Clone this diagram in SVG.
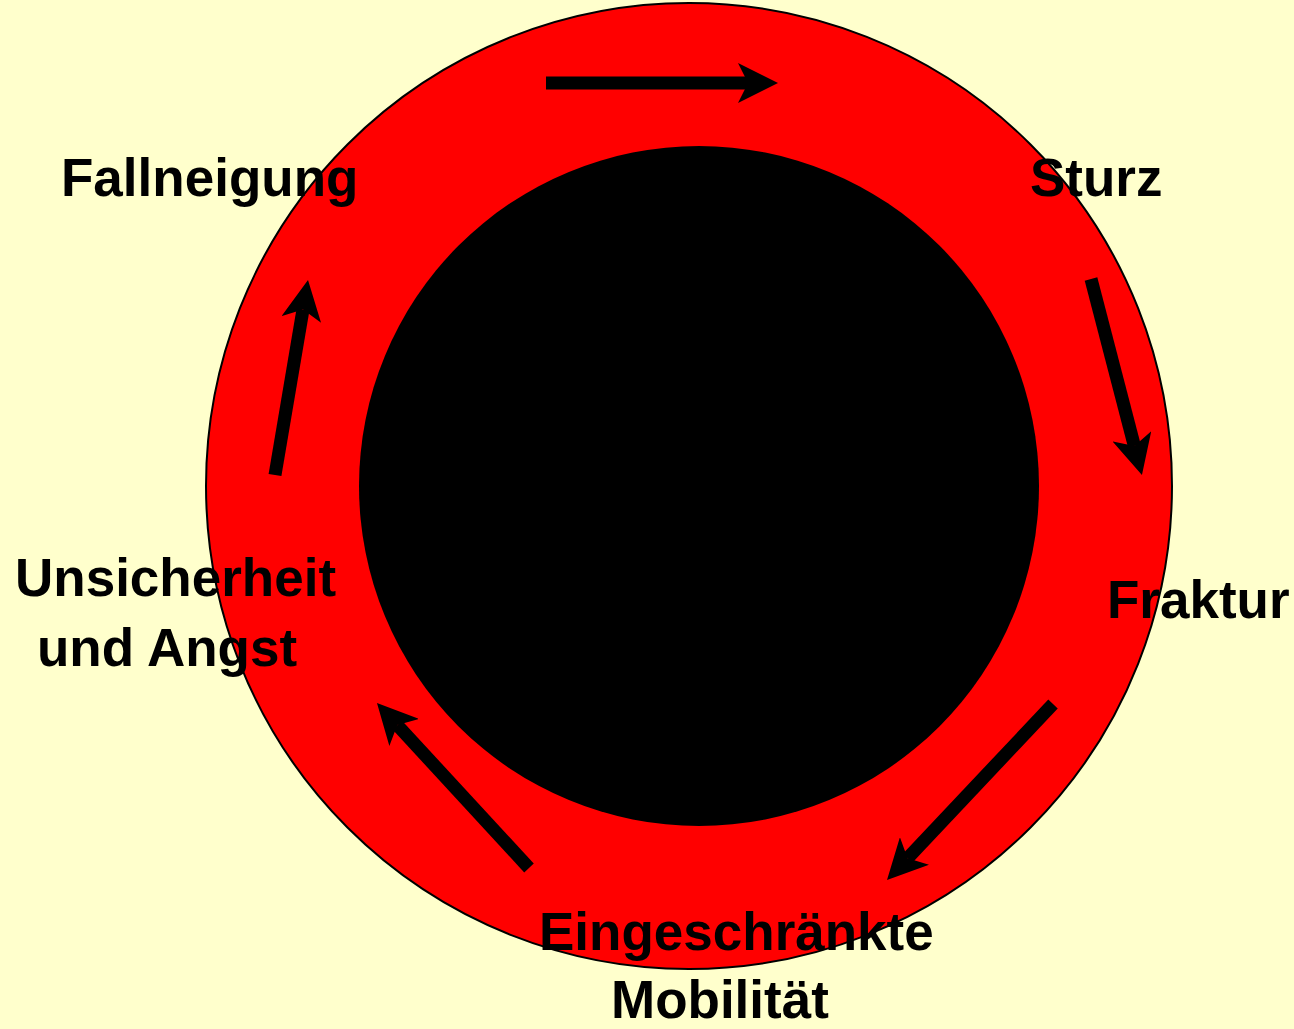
<svg xmlns="http://www.w3.org/2000/svg" width="1294" height="1029" viewBox="0 0 1294 1029">
<style>
.lbl{font-family:"Liberation Sans",Arial,sans-serif;font-weight:bold;font-size:53px;fill:#000}
.arr{stroke:#000;stroke-width:13;fill:none;marker-end:url(#head)}
</style>
<defs>
<marker id="head" markerUnits="userSpaceOnUse" viewBox="0 0 40 40" markerWidth="40" markerHeight="40" refX="10" refY="20" orient="auto">
<path d="M0,0 L40,20 L0,40 L10,20 Z" fill="#000"/>
</marker>
</defs>
<rect x="0" y="0" width="1294" height="1029" fill="#FFFFCC"/>
<g id="ring">
<circle cx="689" cy="486" r="483" fill="#FF0000" stroke="#000" stroke-width="2"/>
<circle cx="699" cy="486" r="340" fill="#000"/>
</g>
<g id="connectors">
<line class="arr" x1="546" y1="83" x2="748" y2="83"/>
<line class="arr" x1="1091" y1="279" x2="1134.4" y2="446"/>
<line class="arr" x1="1053" y1="704" x2="907.6" y2="858.2"/>
<line class="arr" x1="529" y1="868" x2="397.3" y2="725.1"/>
<line class="arr" x1="275" y1="475" x2="303" y2="309.6"/>
</g>
<g id="fallneigung"><text class="lbl" x="61" y="196">Fallneigung</text></g>
<g id="sturz"><text class="lbl" x="1030" y="196">Sturz</text></g>
<g id="fraktur"><text class="lbl" x="1107" y="618">Fraktur</text></g>
<g id="mobilitaet"><text class="lbl" x="539" y="950">Eingeschränkte</text><text class="lbl" x="611" y="1018">Mobilität</text></g>
<g id="angst"><text class="lbl" x="15" y="596">Unsicherheit</text><text class="lbl" x="37" y="666">und Angst</text></g>
</svg>
